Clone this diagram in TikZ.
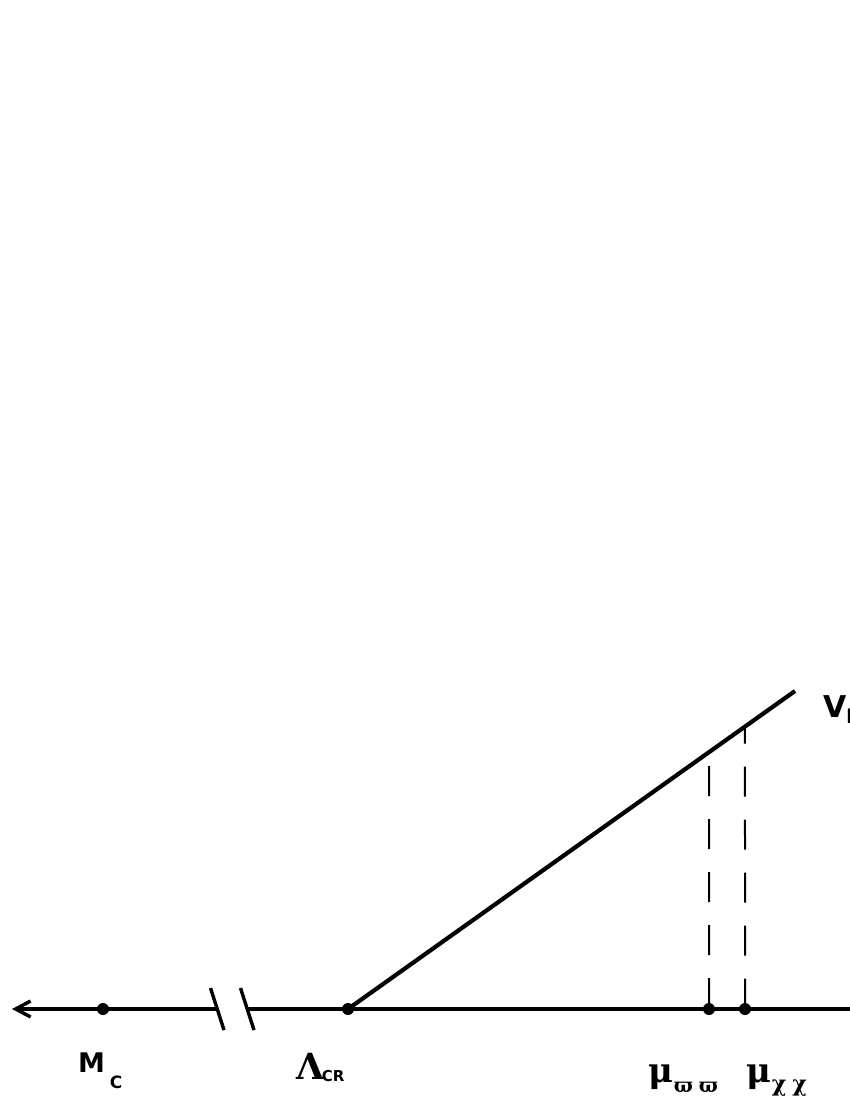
\documentclass[tikz,border=0pt]{standalone}
\usepackage{fontspec}
\setmainfont{DejaVu Sans}
\newfontfamily\grk{DejaVu Serif}
\usetikzlibrary{arrows.meta,calc}
\tikzset{
  axisline/.style={line width=3.4pt},
  diagline/.style={line width=4.2pt},
  breakmark/.style={line width=3.4pt},
  dotmark/.style={circle,fill=black,inner sep=0pt,minimum size=12pt},
  guide/.style={line width=2pt,dash pattern=on 30pt off 23pt},
  lbl/.style={anchor=base west,inner sep=0pt,outer sep=0pt}
}
\newcommand{\fs}[1]{\fontsize{#1}{#1}\selectfont}
\begin{document}
\begin{tikzpicture}[x=1pt,y=-1pt]
\useasboundingbox (0,0) rectangle (850,1100);
\clip (0,0) rectangle (850,1100);
% axis
\coordinate (L) at (12,1009);
\coordinate (R) at (852,1009);
\coordinate (b1) at (217,1009);
\coordinate (b2) at (247,1009);
\node[dotmark] (mc) at (103,1009) {};
\node[dotmark] (lam) at (348,1009) {};
\node[dotmark] (mw) at (709,1009) {};
\node[dotmark] (mx) at (745,1009) {};
\coordinate (top) at (795,691);
\draw[axisline,{Straight Barb[length=15pt,width=16pt]}-] (L) -- (b1);
\draw[axisline] (b2) -- (R);
\draw[breakmark] (210.5,988) -- (224,1030);
\draw[breakmark] (240.5,988) -- (254,1030);
% diagonal
\draw[diagline] (lam.center) -- (top);
\coordinate (dw) at ($(lam.center)!0.8076!(top)$);
\coordinate (dx) at ($(lam.center)!0.8881!(top)$);
\draw[guide,dash phase=39pt] (dw) -- (mw.center);
\draw[guide,dash phase=13pt] (dx) -- (mx.center);
% labels
\node[lbl] (tmc) at (78,1072) {\bfseries\fs{27}M\kern5pt\raisebox{-16pt}{\fs{17}C}};
\node[lbl] (tlam) at (296,1079) {{\grk\bfseries\fs{36}Λ}\kern-2pt\raisebox{-2pt}{\fs{15}\bfseries CR}};
\node[lbl] (tmw) at (648,1082) {{\grk\bfseries\fs{34}μ}\kern1pt\raisebox{-10pt}{\grk\fs{20}\bfseries ϖ\kern6ptϖ}};
\node[lbl] (tmx) at (746,1082) {{\grk\bfseries\fs{34}μ}\kern1pt\raisebox{-9pt}{\grk\bfseries\fs{22}χ\kern6ptχ}};
\node[lbl] (tv) at (823,717) {\bfseries\fs{30}V\raisebox{-6pt}{\fs{20}I}};
\end{tikzpicture}
\end{document}
